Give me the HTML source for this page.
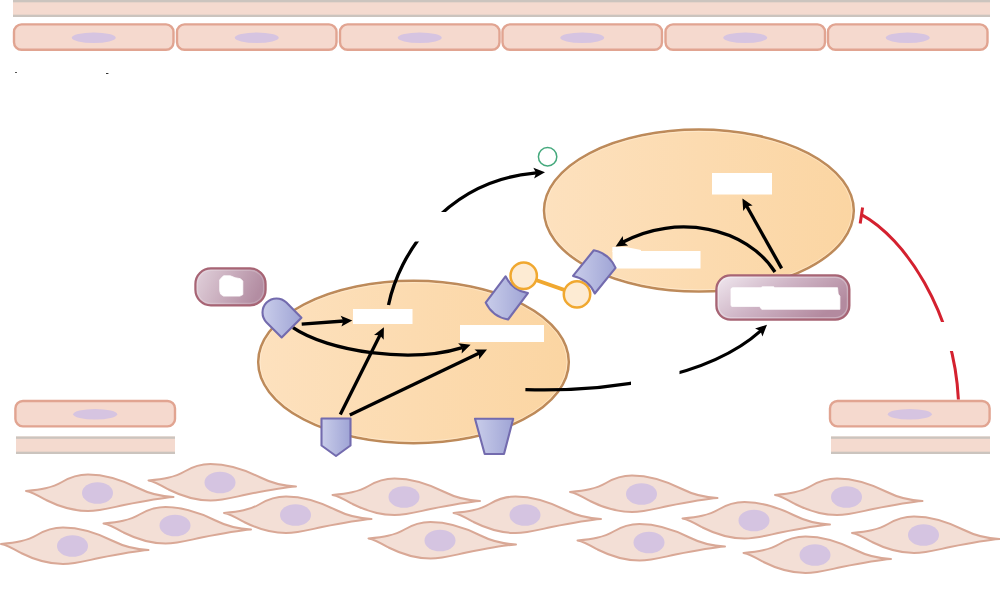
<!DOCTYPE html><html><head><meta charset="utf-8"><title>Diagram</title><style>html,body{margin:0;padding:0;background:#fff;font-family:"Liberation Sans",sans-serif;}svg{display:block;filter:blur(0.45px)}body{overflow:hidden;width:1000px;height:602px}</style></head><body><svg width="1000" height="602" viewBox="0 0 1000 602">
<defs>
<linearGradient id="ge" x1="0" y1="0" x2="1" y2="0"><stop offset="0" stop-color="#fde1be"/><stop offset="1" stop-color="#fbd5a2"/></linearGradient>
<linearGradient id="gp" x1="0" y1="0" x2="1" y2="0"><stop offset="0" stop-color="#c9cdea"/><stop offset="1" stop-color="#9fa4d5"/></linearGradient>
<linearGradient id="gk" x1="0" y1="0" x2="1" y2="0.5"><stop offset="0" stop-color="#f1e9f0"/><stop offset="0.5" stop-color="#cfb5c6"/><stop offset="1" stop-color="#b38a9f"/></linearGradient>
<marker id="ah" viewBox="0 0 13 12" refX="11.5" refY="6" markerWidth="13" markerHeight="12" markerUnits="userSpaceOnUse" orient="auto"><path d="M0,0 L13,6 L0,12 L3.2,6 Z" fill="#000"/></marker>
<linearGradient id="gk2" x1="0" y1="0" x2="1" y2="0.25"><stop offset="0" stop-color="#e2d2dc"/><stop offset="1" stop-color="#b38da2"/></linearGradient>
</defs>
<rect width="1000" height="602" fill="#fff"/>
<rect x="13" y="0" width="977" height="17" fill="#f4dacf"/><rect x="13" y="0" width="977" height="2.3" fill="#cbc4be"/><rect x="13" y="14.7" width="977" height="2.3" fill="#cbc4be"/>
<rect x="14" y="24.4" width="159.5" height="25.4" rx="7.5" fill="#f5d9ce" stroke="#e1a491" stroke-width="2.4"/><ellipse cx="93.75" cy="37.699999999999996" rx="22" ry="5.2" fill="#d6c4e1"/>
<rect x="177" y="24.4" width="159.5" height="25.4" rx="7.5" fill="#f5d9ce" stroke="#e1a491" stroke-width="2.4"/><ellipse cx="256.75" cy="37.699999999999996" rx="22" ry="5.2" fill="#d6c4e1"/>
<rect x="340" y="24.4" width="159.5" height="25.4" rx="7.5" fill="#f5d9ce" stroke="#e1a491" stroke-width="2.4"/><ellipse cx="419.75" cy="37.699999999999996" rx="22" ry="5.2" fill="#d6c4e1"/>
<rect x="502.5" y="24.4" width="159.5" height="25.4" rx="7.5" fill="#f5d9ce" stroke="#e1a491" stroke-width="2.4"/><ellipse cx="582.25" cy="37.699999999999996" rx="22" ry="5.2" fill="#d6c4e1"/>
<rect x="665.5" y="24.4" width="159.5" height="25.4" rx="7.5" fill="#f5d9ce" stroke="#e1a491" stroke-width="2.4"/><ellipse cx="745.25" cy="37.699999999999996" rx="22" ry="5.2" fill="#d6c4e1"/>
<rect x="828" y="24.4" width="159.5" height="25.4" rx="7.5" fill="#f5d9ce" stroke="#e1a491" stroke-width="2.4"/><ellipse cx="907.75" cy="37.699999999999996" rx="22" ry="5.2" fill="#d6c4e1"/>
<rect x="15.4" y="401" width="159.6" height="25.4" rx="7.5" fill="#f5d9ce" stroke="#e1a491" stroke-width="2.4"/><ellipse cx="95.2" cy="414.3" rx="22" ry="5.2" fill="#d6c4e1"/>
<rect x="16" y="436.5" width="159" height="17.5" fill="#f4dacf"/><rect x="16" y="436.5" width="159" height="2.3" fill="#cbc4be"/><rect x="16" y="451.7" width="159" height="2.3" fill="#cbc4be"/>
<rect x="830" y="401" width="159.6" height="25.4" rx="7.5" fill="#f5d9ce" stroke="#e1a491" stroke-width="2.4"/><ellipse cx="909.8" cy="414.3" rx="22" ry="5.2" fill="#d6c4e1"/>
<rect x="831" y="436.5" width="159" height="17.5" fill="#f4dacf"/><rect x="831" y="436.5" width="159" height="2.3" fill="#cbc4be"/><rect x="831" y="451.7" width="159" height="2.3" fill="#cbc4be"/>
<g transform="translate(26.0,491)"><path d="M0,0 C14,-1.5 26,-3 36,-9 C46,-15 54,-16.5 62,-16.5 C78,-16.5 96,-11 112,-3 C124,3 134,5.5 147.5,6 C134,7 118,10 98,14 C84,17 74,20 62,20 C46,20 30,14 20,9 C12,4.5 6,1 0,0 Z" fill="#f3dfd6" stroke="#d9a896" stroke-width="2" stroke-linejoin="round"/><ellipse cx="71.5" cy="2" rx="15.5" ry="10.8" fill="#d5c4e1"/></g>
<g transform="translate(148.5,480.5)"><path d="M0,0 C14,-1.5 26,-3 36,-9 C46,-15 54,-16.5 62,-16.5 C78,-16.5 96,-11 112,-3 C124,3 134,5.5 147.5,6 C134,7 118,10 98,14 C84,17 74,20 62,20 C46,20 30,14 20,9 C12,4.5 6,1 0,0 Z" fill="#f3dfd6" stroke="#d9a896" stroke-width="2" stroke-linejoin="round"/><ellipse cx="71.5" cy="2" rx="15.5" ry="10.8" fill="#d5c4e1"/></g>
<g transform="translate(103.5,523.5)"><path d="M0,0 C14,-1.5 26,-3 36,-9 C46,-15 54,-16.5 62,-16.5 C78,-16.5 96,-11 112,-3 C124,3 134,5.5 147.5,6 C134,7 118,10 98,14 C84,17 74,20 62,20 C46,20 30,14 20,9 C12,4.5 6,1 0,0 Z" fill="#f3dfd6" stroke="#d9a896" stroke-width="2" stroke-linejoin="round"/><ellipse cx="71.5" cy="2" rx="15.5" ry="10.8" fill="#d5c4e1"/></g>
<g transform="translate(224.0,513)"><path d="M0,0 C14,-1.5 26,-3 36,-9 C46,-15 54,-16.5 62,-16.5 C78,-16.5 96,-11 112,-3 C124,3 134,5.5 147.5,6 C134,7 118,10 98,14 C84,17 74,20 62,20 C46,20 30,14 20,9 C12,4.5 6,1 0,0 Z" fill="#f3dfd6" stroke="#d9a896" stroke-width="2" stroke-linejoin="round"/><ellipse cx="71.5" cy="2" rx="15.5" ry="10.8" fill="#d5c4e1"/></g>
<g transform="translate(1.0,544)"><path d="M0,0 C14,-1.5 26,-3 36,-9 C46,-15 54,-16.5 62,-16.5 C78,-16.5 96,-11 112,-3 C124,3 134,5.5 147.5,6 C134,7 118,10 98,14 C84,17 74,20 62,20 C46,20 30,14 20,9 C12,4.5 6,1 0,0 Z" fill="#f3dfd6" stroke="#d9a896" stroke-width="2" stroke-linejoin="round"/><ellipse cx="71.5" cy="2" rx="15.5" ry="10.8" fill="#d5c4e1"/></g>
<g transform="translate(332.5,495)"><path d="M0,0 C14,-1.5 26,-3 36,-9 C46,-15 54,-16.5 62,-16.5 C78,-16.5 96,-11 112,-3 C124,3 134,5.5 147.5,6 C134,7 118,10 98,14 C84,17 74,20 62,20 C46,20 30,14 20,9 C12,4.5 6,1 0,0 Z" fill="#f3dfd6" stroke="#d9a896" stroke-width="2" stroke-linejoin="round"/><ellipse cx="71.5" cy="2" rx="15.5" ry="10.8" fill="#d5c4e1"/></g>
<g transform="translate(368.5,538.5)"><path d="M0,0 C14,-1.5 26,-3 36,-9 C46,-15 54,-16.5 62,-16.5 C78,-16.5 96,-11 112,-3 C124,3 134,5.5 147.5,6 C134,7 118,10 98,14 C84,17 74,20 62,20 C46,20 30,14 20,9 C12,4.5 6,1 0,0 Z" fill="#f3dfd6" stroke="#d9a896" stroke-width="2" stroke-linejoin="round"/><ellipse cx="71.5" cy="2" rx="15.5" ry="10.8" fill="#d5c4e1"/></g>
<g transform="translate(453.5,513)"><path d="M0,0 C14,-1.5 26,-3 36,-9 C46,-15 54,-16.5 62,-16.5 C78,-16.5 96,-11 112,-3 C124,3 134,5.5 147.5,6 C134,7 118,10 98,14 C84,17 74,20 62,20 C46,20 30,14 20,9 C12,4.5 6,1 0,0 Z" fill="#f3dfd6" stroke="#d9a896" stroke-width="2" stroke-linejoin="round"/><ellipse cx="71.5" cy="2" rx="15.5" ry="10.8" fill="#d5c4e1"/></g>
<g transform="translate(570.0,492)"><path d="M0,0 C14,-1.5 26,-3 36,-9 C46,-15 54,-16.5 62,-16.5 C78,-16.5 96,-11 112,-3 C124,3 134,5.5 147.5,6 C134,7 118,10 98,14 C84,17 74,20 62,20 C46,20 30,14 20,9 C12,4.5 6,1 0,0 Z" fill="#f3dfd6" stroke="#d9a896" stroke-width="2" stroke-linejoin="round"/><ellipse cx="71.5" cy="2" rx="15.5" ry="10.8" fill="#d5c4e1"/></g>
<g transform="translate(577.5,540.5)"><path d="M0,0 C14,-1.5 26,-3 36,-9 C46,-15 54,-16.5 62,-16.5 C78,-16.5 96,-11 112,-3 C124,3 134,5.5 147.5,6 C134,7 118,10 98,14 C84,17 74,20 62,20 C46,20 30,14 20,9 C12,4.5 6,1 0,0 Z" fill="#f3dfd6" stroke="#d9a896" stroke-width="2" stroke-linejoin="round"/><ellipse cx="71.5" cy="2" rx="15.5" ry="10.8" fill="#d5c4e1"/></g>
<g transform="translate(682.5,518.5)"><path d="M0,0 C14,-1.5 26,-3 36,-9 C46,-15 54,-16.5 62,-16.5 C78,-16.5 96,-11 112,-3 C124,3 134,5.5 147.5,6 C134,7 118,10 98,14 C84,17 74,20 62,20 C46,20 30,14 20,9 C12,4.5 6,1 0,0 Z" fill="#f3dfd6" stroke="#d9a896" stroke-width="2" stroke-linejoin="round"/><ellipse cx="71.5" cy="2" rx="15.5" ry="10.8" fill="#d5c4e1"/></g>
<g transform="translate(743.5,553)"><path d="M0,0 C14,-1.5 26,-3 36,-9 C46,-15 54,-16.5 62,-16.5 C78,-16.5 96,-11 112,-3 C124,3 134,5.5 147.5,6 C134,7 118,10 98,14 C84,17 74,20 62,20 C46,20 30,14 20,9 C12,4.5 6,1 0,0 Z" fill="#f3dfd6" stroke="#d9a896" stroke-width="2" stroke-linejoin="round"/><ellipse cx="71.5" cy="2" rx="15.5" ry="10.8" fill="#d5c4e1"/></g>
<g transform="translate(775.0,495)"><path d="M0,0 C14,-1.5 26,-3 36,-9 C46,-15 54,-16.5 62,-16.5 C78,-16.5 96,-11 112,-3 C124,3 134,5.5 147.5,6 C134,7 118,10 98,14 C84,17 74,20 62,20 C46,20 30,14 20,9 C12,4.5 6,1 0,0 Z" fill="#f3dfd6" stroke="#d9a896" stroke-width="2" stroke-linejoin="round"/><ellipse cx="71.5" cy="2" rx="15.5" ry="10.8" fill="#d5c4e1"/></g>
<g transform="translate(852.0,533)"><path d="M0,0 C14,-1.5 26,-3 36,-9 C46,-15 54,-16.5 62,-16.5 C78,-16.5 96,-11 112,-3 C124,3 134,5.5 147.5,6 C134,7 118,10 98,14 C84,17 74,20 62,20 C46,20 30,14 20,9 C12,4.5 6,1 0,0 Z" fill="#f3dfd6" stroke="#d9a896" stroke-width="2" stroke-linejoin="round"/><ellipse cx="71.5" cy="2" rx="15.5" ry="10.8" fill="#d5c4e1"/></g>
<ellipse cx="698.9" cy="210.6" rx="154.9" ry="81" fill="url(#ge)" stroke="#bd8a5a" stroke-width="2.5"/><ellipse cx="698.9" cy="210.6" rx="153.1" ry="79.2" fill="none" stroke="#fff1dd" stroke-width="1" opacity="0.5"/>
<ellipse cx="413.5" cy="362" rx="155.3" ry="81.2" fill="url(#ge)" stroke="#bd8a5a" stroke-width="2.5"/><ellipse cx="413.5" cy="362" rx="153.5" ry="79.4" fill="none" stroke="#fff1dd" stroke-width="1" opacity="0.5"/>
<rect x="353" y="309" width="59.5" height="15" fill="#fff"/>
<rect x="460" y="325" width="84" height="17" fill="#fff"/>
<rect x="712" y="173" width="60" height="21.5" fill="#fff"/>
<rect x="612.5" y="251" width="88.0" height="17.5" fill="#fff"/>
<polygon points="612.4,247 626,247 641,250 641,252 612.4,252" fill="#fff"/>
<path d="M301.70,324.10 L343.92,321.01" fill="none" stroke="#000" stroke-width="3.3"/><path d="M352.30,320.40 L341.42,326.61 L343.42,321.05 L340.64,315.84 Z" fill="#000"/>
<path d="M293.00,327.70 C328.06,351.67 410.70,363.70 462.32,347.63" fill="none" stroke="#000" stroke-width="3.3"/><path d="M470.60,344.70 L461.65,353.46 L462.18,347.58 L458.16,343.24 Z" fill="#000"/>
<path d="M340.30,414.40 L380.14,334.81" fill="none" stroke="#000" stroke-width="3.3"/><path d="M383.90,327.30 L383.67,339.82 L379.92,335.26 L374.01,334.99 Z" fill="#000"/>
<path d="M349.80,415.10 L479.42,353.03" fill="none" stroke="#000" stroke-width="3.3"/><path d="M487.00,349.40 L479.14,359.15 L478.97,353.24 L474.48,349.41 Z" fill="#000"/>
<path d="M388.50,305.00 C398.69,255.53 444.15,180.66 536.31,172.83" fill="none" stroke="#000" stroke-width="3.3"/><path d="M545.00,172.30 L534.10,178.46 L536.12,172.91 L533.36,167.69 Z" fill="#000"/>
<rect x="400" y="212" width="56" height="29.5" fill="#fff"/>
<path d="M525.40,389.60 C606.83,391.91 707.15,379.03 760.93,330.62" fill="none" stroke="#000" stroke-width="3.3"/><path d="M767.00,324.80 L762.43,336.46 L760.50,330.88 L755.06,328.57 Z" fill="#000"/>
<rect x="631" y="365" width="48.5" height="30" fill="#fff"/>
<path d="M775.00,272.00 C746.35,227.12 676.66,213.24 623.06,242.04" fill="none" stroke="#000" stroke-width="3.3"/><path d="M615.60,246.40 L622.76,236.12 L623.34,242.00 L628.09,245.51 Z" fill="#000"/>
<path d="M781.60,268.40 L746.50,205.73" fill="none" stroke="#000" stroke-width="3.3"/><path d="M742.40,198.40 L752.63,205.62 L746.75,206.17 L743.21,210.90 Z" fill="#000"/>
<path d="M861.4,214.6 C905,238 954,312 958.4,399.5" fill="none" stroke="#d4212f" stroke-width="3"/>
<path d="M862.6,207.6 L860.2,223.4" fill="none" stroke="#d4212f" stroke-width="3"/>
<rect x="930" y="322" width="50" height="29" fill="#fff"/>
<rect x="195.4" y="268.4" width="70.2" height="36.9" rx="15.5" fill="url(#gk2)" stroke="#a76474" stroke-width="2.2"/><rect x="197.4" y="270.4" width="66.2" height="32.9" rx="13.5" fill="none" stroke="#fff" stroke-opacity="0.2" stroke-width="1.2"/>
<polygon points="223.5,275.8 230.3,275.8 235.1,277.7 240.4,278.7 242.8,281.1 242.8,294.6 239.9,296.1 223.5,296.1 220.6,294.1 219.7,290.8 219.7,279.7 222.1,277.3" fill="#fff" stroke="#fff" stroke-width="0.8" stroke-linejoin="round"/>
<rect x="716.4" y="275.35" width="132.95" height="44.2" rx="14" fill="url(#gk)" stroke="#a76474" stroke-width="2.3"/><rect x="718.4" y="277.35" width="128.95" height="40.2" rx="12" fill="none" stroke="#fff" stroke-opacity="0.3" stroke-width="1.2"/>
<polygon points="731.0,288.7 732.5,287.7 761.0,287.7 762.2,286.8 773.7,286.8 774.8,287.7 837.5,287.7 838.2,294.0 839.9,296.2 839.9,309.3 761.7,309.3 759.5,306.4 731.7,306.4 731.0,305.2" fill="#fff" stroke="#fff" stroke-width="0.8" stroke-linejoin="round"/>
<path d="M286.40,302.60 L301.46,317.66 L281.66,337.46 L266.60,322.40 A14,14 0 0 1 286.40,302.60 Z" fill="url(#gp)" stroke="#736bae" stroke-width="2.1" stroke-linejoin="round"/>
<path d="M321.5,418.5 L350.5,418.5 L350.5,445.5 L336,456 L321.5,445.5 Z" fill="url(#gp)" stroke="#736bae" stroke-width="2.1" stroke-linejoin="round"/>
<path d="M475,418.8 L513.2,418.8 L504,454 L484.7,454 Z" fill="url(#gp)" stroke="#736bae" stroke-width="2.1" stroke-linejoin="round"/>
<path d="M527.91,293.15 L508.05,319.50 Q492.54,316.83 485.69,302.65 L505.55,276.30 Q512.40,290.47 527.91,293.15 Z" fill="url(#gp)" stroke="#736bae" stroke-width="2.1" stroke-linejoin="round"/>
<path d="M523.7,275.8 L577,294.4" stroke="#f0a830" stroke-width="3.8" fill="none"/>
<circle cx="523.7" cy="275.8" r="13.2" fill="#fdebd3" stroke="#f0a830" stroke-width="2.5"/>
<circle cx="577" cy="294.4" r="13.2" fill="#fdebd3" stroke="#f0a830" stroke-width="2.5"/>
<path d="M573.04,275.91 L593.80,250.27 Q609.21,253.48 615.56,267.89 L594.80,293.53 Q588.45,279.13 573.04,275.91 Z" fill="url(#gp)" stroke="#736bae" stroke-width="2.1" stroke-linejoin="round"/>
<circle cx="547.6" cy="156.8" r="9.2" fill="#fff" stroke="#45a97d" stroke-width="1.5"/>
<rect x="15" y="72" width="2" height="1" fill="#555"/><rect x="106" y="73" width="2.4" height="1" fill="#333"/>
</svg></body></html>
